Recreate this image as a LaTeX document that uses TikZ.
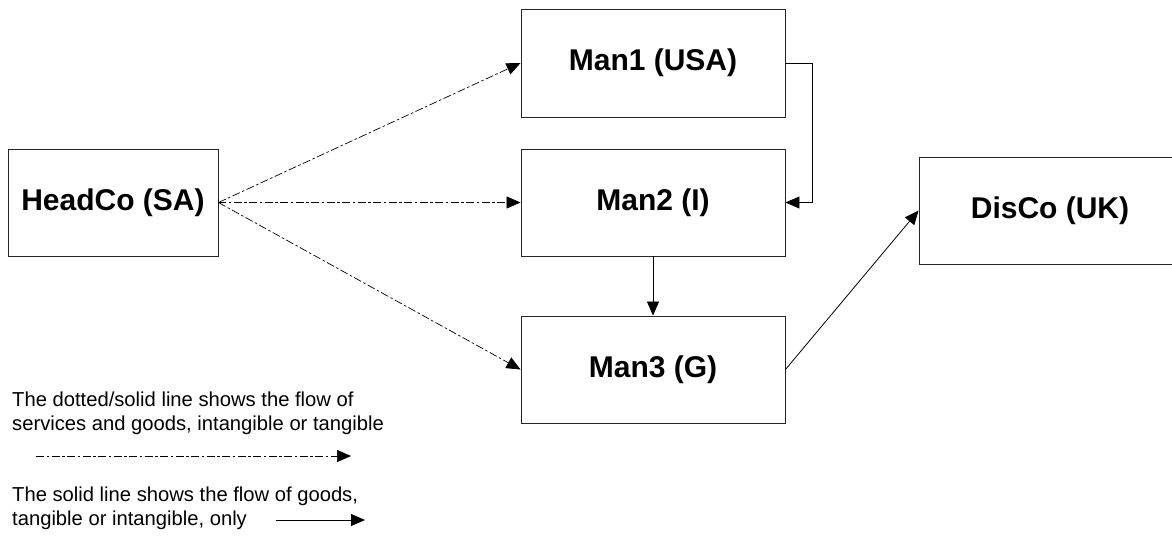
\documentclass[tikz,border=0pt]{standalone}
\usepackage{fontspec}
\setmainfont{Liberation Sans}
\usetikzlibrary{arrows.meta}
\begin{document}
\begin{tikzpicture}[x=1pt,y=-1pt,
  box/.style={draw=black!85, line width=0.9pt, inner sep=0pt, font=\fontsize{30}{36}\selectfont\bfseries},
  legtext/.style={inner sep=0pt, anchor=base west, font=\fontsize{20.2}{24}\selectfont},
  flowarrow/.style={line width=0.7pt, dash pattern=on 8pt off 2.5pt on 2.5pt off 2.5pt, -{Triangle[length=14pt,width=12pt]}},
  goodsarrow/.style={line width=0.8pt, -{Triangle[length=14pt,width=12pt]}}]
\useasboundingbox (0,0) rectangle (1172,536);
\node[box, minimum width=210pt, minimum height=107pt] (head) at (113,202.5) {HeadCo (SA)};
\node[box, minimum width=264pt, minimum height=108pt] (man1) at (653,63) {Man1 (USA)};
\node[box, minimum width=264pt, minimum height=107pt] (man2) at (653,202.5) {Man2 (I)};
\node[box, minimum width=264pt, minimum height=107pt] (man3) at (653,369.5) {Man3 (G)};
\node[box, minimum width=262pt, minimum height=107pt] (disco) at (1050,210.5) {DisCo (UK)};

\draw[flowarrow] (head.east) -- (man1.west);
\draw[flowarrow] (head.east) -- (man2.west);
\draw[flowarrow] (head.east) -- (man3.west);
\draw[goodsarrow] (man1.east) -- ++(27,0) |- (man2.east);
\draw[goodsarrow] (man2.south) -- (man3.north);
\draw[goodsarrow] (man3.east) -- (disco.west);

\node[legtext] (l1) at (12,406) {The dotted/solid line shows the flow of};
\node[legtext] (l2) at (12,430) {services and goods, intangible or tangible};
\coordinate (da) at (36,456);
\coordinate (db) at (351,456);
\draw[flowarrow] (da) -- (db);
\node[legtext] (l3) at (12,501) {The solid line shows the flow of goods,};
\node[legtext] (l4) at (12,525) {tangible or intangible, only};
\coordinate (sa) at (276,520);
\coordinate (sb) at (365,520);
\draw[goodsarrow] (sa) -- (sb);
\end{tikzpicture}
\end{document}
